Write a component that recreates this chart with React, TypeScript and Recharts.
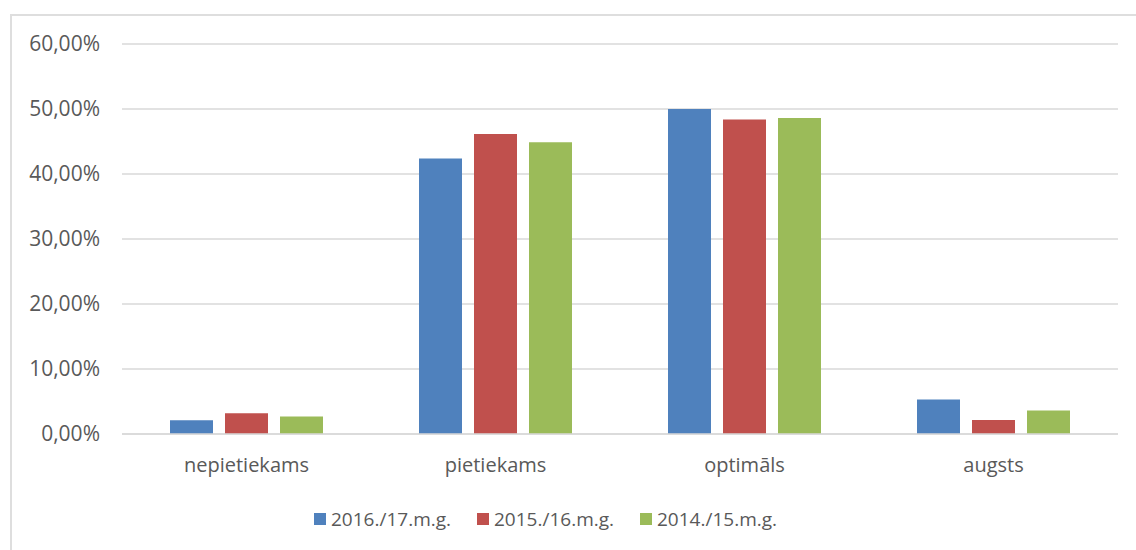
import { Bar, BarChart, CartesianGrid, Legend, XAxis, YAxis } from "recharts";

const categories = ["nepietiekams", "pietiekams", "optimāls", "augsts"];
const s2016 = [2.1, 42.4, 50.0, 5.3];
const s2015 = [3.2, 46.15, 48.4, 2.15];
const s2014 = [2.7, 44.9, 48.6, 3.6];
const yTicks = [0, 10, 20, 30, 40, 50, 60];

const series = [
  { key: "s2016", name: "2016./17.m.g.", color: "#4F81BD" },
  { key: "s2015", name: "2015./16.m.g.", color: "#C0504D" },
  { key: "s2014", name: "2014./15.m.g.", color: "#9BBB59" },
];

const data = categories.map((c, i) => ({
  name: c,
  s2016: s2016[i],
  s2015: s2015[i],
  s2014: s2014[i],
}));

const font = "'Open Sans', sans-serif";
const textColor = "#595959";
const gridColor = "#d9d9d9";

const fmt = (v: number) => v.toFixed(2).replace(".", ",") + "%";

function LegendBox() {
  return (
    <div style={{ display: "flex", fontFamily: font, fontSize: 19, color: textColor, whiteSpace: "nowrap" }}>
      {series.map((s) => (
        <div key={s.key} style={{ display: "flex", alignItems: "center", width: 163 }}>
          <span style={{ display: "inline-block", width: 12, height: 12, background: s.color, marginRight: 5 }} />
          <span>{s.name}</span>
        </div>
      ))}
    </div>
  );
}

export default function App() {
  return (
    <div style={{ position: "absolute", left: 0, top: 0, width: 1136, height: 550, overflow: "hidden", background: "#fff" }}>
      <div
        style={{
          position: "absolute",
          left: 10,
          top: 14,
          width: 1160,
          height: 580,
          border: "2px solid #dedede",
        }}
      />
      <BarChart
        width={1136}
        height={550}
        data={data}
        margin={{ top: 44, right: 18, left: 0, bottom: 56 }}
        barSize={43}
        barGap={12}
        style={{ position: "absolute", left: 0, top: 0 }}
      >
        <CartesianGrid vertical={false} stroke={gridColor} strokeWidth={1.5} />
        <XAxis
          dataKey="name"
          height={60}
          axisLine={{ stroke: gridColor, strokeWidth: 1.5 }}
          tickLine={false}
          tickSize={0}
          tickMargin={24}
          tick={{ fill: textColor, fontSize: 20, fontFamily: font }}
        />
        <YAxis
          width={122}
          domain={[0, 60]}
          ticks={yTicks}
          axisLine={false}
          tickLine={false}
          tickSize={0}
          tickMargin={22}
          tickFormatter={fmt}
          tick={{ fill: textColor, fontSize: 21, fontFamily: font }}
        />
        <Legend
          layout="horizontal"
          verticalAlign="middle"
          align="center"
          wrapperStyle={{ left: 314, top: 506, width: "auto" }}
          content={() => <LegendBox />}
        />
        {series.map((s) => (
          <Bar key={s.key} dataKey={s.key} name={s.name} fill={s.color} isAnimationActive={false} />
        ))}
      </BarChart>
    </div>
  );
}
